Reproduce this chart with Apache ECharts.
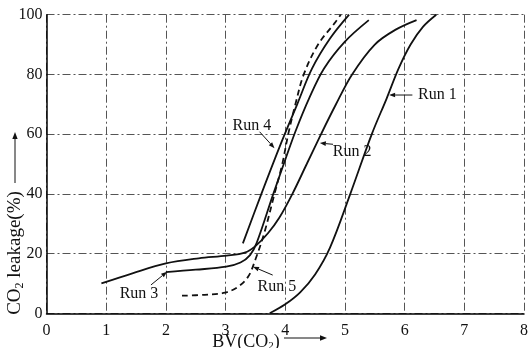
<!DOCTYPE html>
<html><head><meta charset="utf-8">
<script src="https://cdn.jsdelivr.net/npm/echarts@6/dist/echarts.min.js"></script>
<style>html,body{margin:0;padding:0;background:#fff}#c{width:531px;height:348px}</style>
</head><body><div id="c"></div>
<script>
// axis ticks
const xTickLabels = ['0','1','2','3','4','5','6','7','8'];
const yTickLabels = ['0','20','40','60','80','100'];

// series values [BV, leakage %]
const run1 = [[3.74,0],[4.0,3],[4.25,7],[4.5,13],[4.75,22],[5.09,40],[5.45,60],[5.7,72],[5.9,82],[6.1,90],[6.31,96],[6.53,100]];
const run2 = [[0.92,10],[1.44,13.4],[2.0,16.7],[2.55,18.4],[3.02,19.3],[3.32,20.3],[3.5,22.5],[3.71,26.8],[3.9,32],[4.12,40],[4.36,50],[4.6,60],[4.85,70],[5.12,80],[5.5,90],[5.85,95],[6.2,98.2]];
const run3 = [[2.0,13.8],[2.5,14.6],[3.01,15.6],[3.25,17],[3.41,19.5],[3.52,23.5],[3.8,40],[4.01,52],[4.18,61.4],[4.4,72],[4.65,82],[5.0,91],[5.4,98.2]];
const run4 = [[3.29,23.4],[3.6,40],[3.93,57],[4.2,70],[4.45,82],[4.75,92],[5.07,100]];
const run5 = [[2.27,5.9],[2.65,6.2],[2.99,6.9],[3.21,8.9],[3.38,12.3],[3.5,18],[3.65,27],[3.82,40],[3.95,50],[4.05,60],[4.17,70],[4.31,80],[4.55,90],[4.82,97],[4.93,100]];

const seriesNames = ['Run 1','Run 2','Run 3','Run 4','Run 5'];

// annotation anchors (data coords): label centre, arrow start, arrow tip
const notes = [
  {name:'Run 1', at:[6.55,73.1], from:[6.13,73.1], to:[5.74,73.1]},
  {name:'Run 2', at:[5.12,54.0], from:[4.80,56.6], to:[4.58,57.0]},
  {name:'Run 3', at:[1.55,6.6], from:[1.75,9.5], to:[2.02,13.9]},
  {name:'Run 4', at:[3.44,62.8], from:[3.57,60.8], to:[3.82,55.3]},
  {name:'Run 5', at:[3.86,9.0], from:[3.79,12.8], to:[3.46,15.6]}
];

const FONT = '"Liberation Serif", "DejaVu Serif", serif';
const chart = echarts.init(document.getElementById('c'), null, {renderer:'canvas'});
const gridDash = [8,3,2,3];

function mk(name, data, dashed){
  return {name, type:'line', data, showSymbol:false, smooth:0.35,
    lineStyle:{color:'#111', width:1.8, type: dashed ? [6,4] : 'solid'}, z:5, animation:false};
}

chart.setOption({
  animation:false,
  backgroundColor:'#fff',
  grid:{left:46.5, right:3, top:14.7, bottom:34.7, containLabel:false},
  xAxis:{type:'value', min:0, max:8, interval:1,
    axisLine:{show:true, lineStyle:{color:'#000', width:1.5}},
    axisTick:{show:false},
    axisLabel:{color:'#111', fontFamily:FONT, fontSize:16, margin:9,
      formatter:(v)=>xTickLabels[Math.round(v)]},
    splitLine:{show:true, lineStyle:{color:'#555', width:1, type:gridDash}}},
  yAxis:{type:'value', min:0, max:100, interval:20,
    axisLine:{show:true, lineStyle:{color:'#000', width:1.5}},
    axisTick:{show:false},
    axisLabel:{color:'#111', fontFamily:FONT, fontSize:16, margin:4,
      formatter:(v)=>yTickLabels[Math.round(v/20)]},
    splitLine:{show:true, lineStyle:{color:'#555', width:1, type:gridDash}}},
  series:[mk(seriesNames[0],run1), mk(seriesNames[1],run2), mk(seriesNames[2],run3), mk(seriesNames[3],run4), mk(seriesNames[4],run5,true)]
});

function P(c){ return chart.convertToPixel({gridIndex:0}, c); }
function arrow(a, b, size){
  const ang = Math.atan2(b[1]-a[1], b[0]-a[0]);
  const s = size||6, w = s*0.38;
  const back = [b[0]-s*Math.cos(ang), b[1]-s*Math.sin(ang)];
  const nx = -Math.sin(ang)*w, ny = Math.cos(ang)*w;
  return [
    {type:'line', shape:{x1:a[0],y1:a[1],x2:back[0],y2:back[1]}, style:{stroke:'#111', lineWidth:1}, z:10},
    {type:'polygon', shape:{points:[[b[0],b[1]],[back[0]+nx,back[1]+ny],[back[0]-nx,back[1]-ny]]}, style:{fill:'#111'}, z:10}
  ];
}

const g = [];
notes.forEach(n=>{
  const c = P(n.at);
  g.push({type:'text', x:c[0], y:c[1], style:{text:n.name, font:'16px '+FONT, fill:'#111', align:'center', verticalAlign:'middle'}, z:10});
  g.push(...arrow(P(n.from), P(n.to), 6));
});

// y axis title (rotated) + arrow
g.push({type:'text', x:15, y:253, rotation:Math.PI/2,
  style:{text:'CO{s|2} leakage(%)', font:'19px '+FONT, fill:'#111', align:'center', verticalAlign:'middle',
    rich:{s:{font:'12px '+FONT, fill:'#111', verticalAlign:'bottom', padding:[9,0,0,0]}}}, z:10});
g.push(...arrow([15,183],[15,132],7));
// x axis title + arrow
g.push({type:'text', x:246, y:342,
  style:{text:'BV(CO{s|2})', font:'18px '+FONT, fill:'#111', align:'center', verticalAlign:'middle',
    rich:{s:{font:'11px '+FONT, fill:'#111', verticalAlign:'bottom', padding:[8,0,0,0]}}}, z:10});
g.push(...arrow([284,338],[327,338],7));

chart.setOption({graphic:g});
</script></body></html>
